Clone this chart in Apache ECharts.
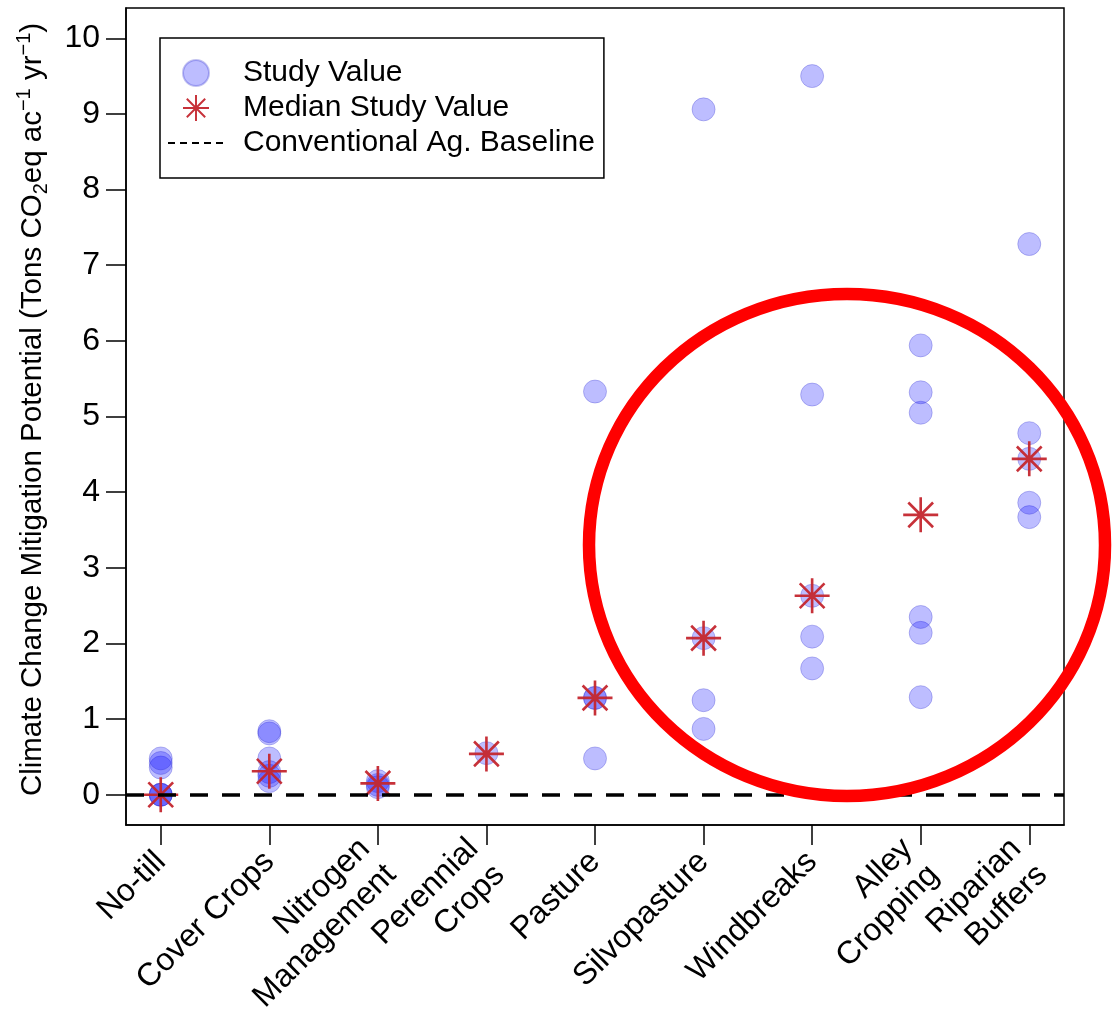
<!DOCTYPE html>
<html>
<head>
<meta charset="utf-8">
<script src="https://cdn.jsdelivr.net/npm/echarts@6/dist/echarts.min.js"></script>
<style>
  html, body { margin: 0; padding: 0; background: #fff; }
  #chart { width: 1112px; height: 1016px; }
</style>
</head>
<body>
<div id="chart"></div>
<script>
// ---- data ----
const CATEGORIES = ['No-till', 'Cover Crops', 'Nitrogen\nManagement', 'Perennial\nCrops', 'Pasture',
  'Silvopasture', 'Windbreaks', 'Alley\nCropping', 'Riparian\nBuffers'];
const STUDY_NOTILL = [0, 0, 0, 0.36, 0.42, 0.48];
const STUDY_COVER = [0.18, 0.25, 0.30, 0.48, 0.81, 0.84];
const STUDY_NITROGEN = [0.10, 0.13, 0.18];
const STUDY_PERENNIAL = [0.55];
const STUDY_PASTURE = [0.48, 1.28, 1.28, 5.33];
const STUDY_SILVO = [0.87, 1.25, 2.07, 9.06];
const STUDY_WINDBREAKS = [1.67, 2.09, 2.63, 5.29, 9.50];
const STUDY_ALLEY = [1.29, 2.14, 2.35, 5.05, 5.32, 5.94];
const STUDY_RIPARIAN = [3.67, 3.86, 4.44, 4.78, 7.28];
const MEDIANS = [0, 0.31, 0.15, 0.54, 1.28, 2.07, 2.63, 3.70, 4.44];
const Y_TICKS = [0, 1, 2, 3, 4, 5, 6, 7, 8, 9, 10];
const X_TICKS = [1, 2, 3, 4, 5, 6, 7, 8, 9];
const BASELINE = 0;

const STUDY_GROUPS = [STUDY_NOTILL, STUDY_COVER, STUDY_NITROGEN, STUDY_PERENNIAL, STUDY_PASTURE,
  STUDY_SILVO, STUDY_WINDBREAKS, STUDY_ALLEY, STUDY_RIPARIAN];

const studyData = [];
STUDY_GROUPS.forEach((vals, i) => vals.forEach(v => studyData.push([X_TICKS[i], v])));
const medianData = MEDIANS.map((v, i) => [X_TICKS[i], v]);

const FONT = '"Liberation Sans", Arial, Helvetica, sans-serif';
const STAR = 'path://M-0.075,-1L0.075,-1L0.075,1L-0.075,1Z' +
  'M-1,-0.075L1,-0.075L1,0.075L-1,0.075Z' +
  'M-0.654,-0.760L0.760,0.654L0.654,0.760L-0.760,-0.654Z' +
  'M-0.760,0.654L0.654,-0.760L0.760,-0.654L-0.654,0.760Z';

const chart = echarts.init(document.getElementById('chart'), null, { renderer: 'canvas' });

const option = {
  backgroundColor: '#ffffff',
  animation: false,
  textStyle: { fontFamily: FONT },
  grid: {
    left: 126, right: 48, top: 8, bottom: 191,
    show: true, borderColor: '#000', borderWidth: 1.5,
    containLabel: false, outerBoundsMode: 'none'
  },
  legend: {
    orient: 'vertical',
    left: 160, top: 38,
    padding: [20, 9, 20, 7],
    itemWidth: 56, itemHeight: 26, itemGap: 5,
    borderColor: '#000', borderWidth: 1.5, borderRadius: 0,
    backgroundColor: '#fff',
    selectedMode: false,
    textStyle: { fontSize: 30, lineHeight: 30, color: '#000', fontFamily: FONT, padding: [0, 0, 0, 14] },
    data: ['Study Value', 'Median Study Value', 'Conventional Ag. Baseline']
  },
  xAxis: {
    type: 'value',
    min: 0.68, max: 9.32,
    splitLine: { show: false },
    axisLine: { show: true, onZero: false, lineStyle: { color: '#000', width: 1.5 } },
    axisTick: { show: true, customValues: X_TICKS, length: 20, lineStyle: { color: '#000', width: 1.5 } },
    axisLabel: {
      customValues: X_TICKS,
      formatter: v => CATEGORIES[Math.round(v) - 1] || '',
      rotate: 45, fontSize: 32, lineHeight: 37, margin: 32, color: '#000', fontFamily: FONT
    }
  },
  yAxis: {
    type: 'value',
    min: -0.4, max: 10.4,
    splitLine: { show: false },
    axisLine: { show: true, onZero: false, lineStyle: { color: '#000', width: 1.5 } },
    axisTick: { show: true, customValues: Y_TICKS, length: 20, lineStyle: { color: '#000', width: 1.5 } },
    axisLabel: { customValues: Y_TICKS, fontSize: 32, margin: 26, color: '#000', fontFamily: FONT },
    name: '{a|Climate Change Mitigation Potential (Tons CO}{sub|2}{a|eq ac}{sup|\u22121}{a| yr}{sup|\u22121}{a|)}',
    nameLocation: 'middle',
    nameGap: 78,
    nameTextStyle: {
      fontFamily: FONT, color: '#000',
      padding: [0, 0, 0, 14],
      rich: {
        a: { fontSize: 29.5, lineHeight: 30, verticalAlign: 'middle', fontFamily: FONT, color: '#000' },
        sup: { fontSize: 20, lineHeight: 20, padding: [0, 0, 18, 0], verticalAlign: 'middle', fontFamily: FONT, color: '#000' },
        sub: { fontSize: 20, lineHeight: 20, padding: [16, 0, 0, 0], verticalAlign: 'middle', fontFamily: FONT, color: '#000' }
      }
    }
  },
  series: [
    {
      name: 'Study Value',
      type: 'scatter',
      data: studyData,
      symbol: 'circle',
      symbolSize: 23,
      itemStyle: { color: 'rgba(0,0,255,0.32)', borderColor: 'rgba(40,40,200,0.35)', borderWidth: 1 },
      z: 2
    },
    {
      name: 'Median Study Value',
      type: 'scatter',
      data: medianData,
      symbol: STAR,
      symbolSize: 35,
      itemStyle: { color: '#c4262e', opacity: 0.95 },
      z: 3
    },
    {
      name: 'Conventional Ag. Baseline',
      type: 'line',
      data: [],
      symbol: 'circle',
      itemStyle: { color: 'rgba(0,0,0,0)', borderColor: 'rgba(0,0,0,0)', borderWidth: 0, opacity: 0 },
      lineStyle: { color: '#000', width: 1.6, type: [7, 5] },
      markLine: {
        silent: true,
        symbol: 'none',
        label: { show: false },
        lineStyle: { color: '#000', width: 3.5, type: [18, 14] },
        data: [{ yAxis: BASELINE }]
      },
      z: 1
    }
  ],
  graphic: [
    {
      type: 'ellipse',
      silent: true,
      z: 100,
      shape: { cx: 847, cy: 545, rx: 258, ry: 251 },
      style: { fill: 'none', stroke: '#ff0000', lineWidth: 12.5 }
    }
  ]
};

chart.setOption(option);
</script>
</body>
</html>
